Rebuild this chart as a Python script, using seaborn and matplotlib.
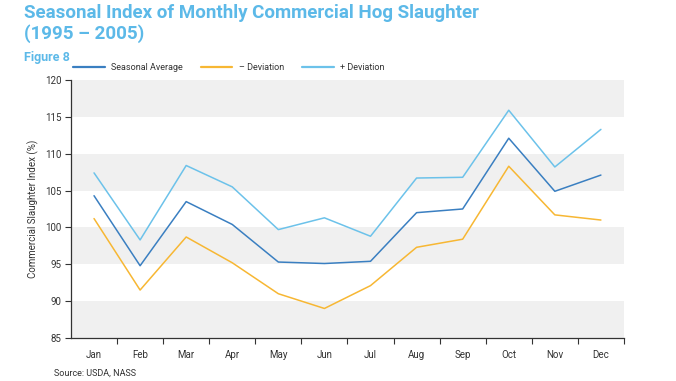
import matplotlib
matplotlib.use("Agg")
import matplotlib.pyplot as plt
import seaborn as sns
import pandas as pd
import numpy as np

months = ["Jan", "Feb", "Mar", "Apr", "May", "Jun", "Jul", "Aug", "Sep", "Oct", "Nov", "Dec"]
seasonal_avg = [104.3, 94.8, 103.5, 100.4, 95.3, 95.1, 95.4, 102.0, 102.5, 112.1, 104.9, 107.1]
minus_dev = [101.2, 91.5, 98.7, 95.2, 91.0, 89.0, 92.1, 97.3, 98.4, 108.3, 101.7, 101.0]
plus_dev = [107.4, 98.3, 108.4, 105.5, 99.7, 101.3, 98.8, 106.7, 106.8, 115.9, 108.2, 113.3]
series_names = ["Seasonal Average", "\u2013 Deviation", "+ Deviation"]
colors = ["#3a7fc1", "#f7b733", "#6cc2ea"]
y_ticks = [85, 90, 95, 100, 105, 110, 115, 120]

sns.set_theme(style="white")
plt.rcParams["font.family"] = ["Roboto", "DejaVu Sans"]

df = pd.DataFrame({
    "Month": months * 3,
    "x": list(range(12)) * 3,
    "Value": seasonal_avg + minus_dev + plus_dev,
    "Series": [series_names[0]] * 12 + [series_names[1]] * 12 + [series_names[2]] * 12,
})

fig = plt.figure(figsize=(6.76, 3.81), dpi=100)
ax = fig.add_axes([0.105, 0.113, 0.818, 0.677])

# alternating bands
for lo in [85, 95, 105, 115]:
    ax.axhspan(lo, lo + 5, color="#f0f0f0", zorder=0, lw=0)

sns.lineplot(data=df, x="x", y="Value", hue="Series", hue_order=series_names,
             palette=colors, linewidth=1.1, ax=ax, legend=False, zorder=3)

ax.set_xlim(-0.5, 11.5)
ax.set_ylim(85, 120)
ax.set_yticks(y_ticks)
ax.set_yticklabels([str(t) for t in y_ticks], fontsize=7, color="#333333")
ax.set_xticks(range(12))
ax.set_xticklabels(months, fontsize=7, color="#333333")
ax.set_xticks(np.arange(0.5, 12, 1), minor=True)
ax.tick_params(axis="x", which="major", length=0, pad=9)
ax.tick_params(axis="x", which="minor", length=4, width=0.8, color="#333333", direction="out", bottom=True)
ax.tick_params(axis="y", which="major", length=4, width=0.8, color="#333333", direction="out", left=True, pad=3)
for s in ["top", "right"]:
    ax.spines[s].set_visible(False)
for s in ["left", "bottom"]:
    ax.spines[s].set_color("#333333")
    ax.spines[s].set_linewidth(0.9)
ax.set_xlabel("")
ax.set_ylabel("Commercial Slaughter Index (%)", fontsize=7, color="#333333", labelpad=4)

# legend
from matplotlib.lines import Line2D
handles = [Line2D([0], [0], color=c, lw=1.6) for c in colors]
fig.legend(handles, series_names, loc="center left", bbox_to_anchor=(0.096, 0.822),
           ncol=3, frameon=False, fontsize=6.5, handlelength=3.5, columnspacing=2.0,
           handletextpad=0.7, labelcolor="#333333")

fig.text(0.036, 0.965, "Seasonal Index of Monthly Commercial Hog Slaughter", fontsize=13.5,
         fontweight="bold", color="#5cb9e8", va="center", ha="left")
fig.text(0.036, 0.912, "(1995 \u2013 2005)", fontsize=13.5, fontweight="bold",
         color="#5cb9e8", va="center", ha="left")
fig.text(0.036, 0.85, "Figure 8", fontsize=9, fontweight="bold", color="#5cb9e8",
         va="center", ha="left")
fig.text(0.08, 0.01, "Source: USDA, NASS", fontsize=6.5, color="#333333",
         va="bottom", ha="left")

fig.savefig("out.png", dpi=100)
